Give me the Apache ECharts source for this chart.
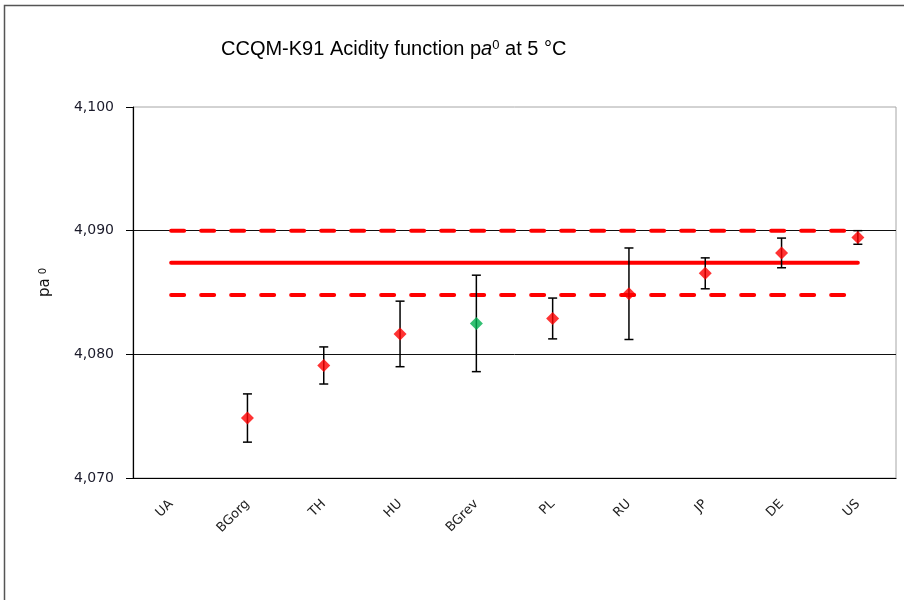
<!DOCTYPE html>
<html><head><meta charset="utf-8">
<script src="https://cdn.jsdelivr.net/npm/echarts@6/dist/echarts.min.js"></script>
<style>html,body{margin:0;padding:0;background:#fff}#c{width:904px;height:600px}</style>
</head><body><div id="c"></div>
<script>
// ---- data ----
const categories = ['UA', 'BGorg', 'TH', 'HU', 'BGrev', 'PL', 'RU', 'JP', 'DE', 'US'];
const values = [null, 4.07485, 4.0791, 4.08165, 4.0825, 4.0829, 4.0849, 4.08655, 4.0882, 4.08945];
const uncertainties = [null, 0.00195, 0.0015, 0.00265, 0.0039, 0.00165, 0.0037, 0.00125, 0.0012, 0.00055];
const markerColors = ['#FF0000', '#FF0000', '#FF0000', '#FF0000', '#00B050', '#FF0000', '#FF0000', '#FF0000', '#FF0000', '#FF0000'];
const kcrvLine = [4.0874, 4.0874, 4.0874, 4.0874, 4.0874, 4.0874, 4.0874, 4.0874, 4.0874, 4.0874];
const upperLine = [4.0900, 4.0900, 4.0900, 4.0900, 4.0900, 4.0900, 4.0900, 4.0900, 4.0900, 4.0900];
const lowerLine = [4.0848, 4.0848, 4.0848, 4.0848, 4.0848, 4.0848, 4.0848, 4.0848, 4.0848, 4.0848];
const yMin = 4.07, yMax = 4.10, yStep = 0.01;

const errData = [];
values.forEach((v, i) => {
  if (v != null) errData.push([i, v - uncertainties[i], v + uncertainties[i]]);
});
const pointData = values.map((v, i) => v == null ? null : { value: v, itemStyle: { color: markerColors[i] } });

const chart = echarts.init(document.getElementById('c'), null, { renderer: 'canvas' });
const axisFont = 'DejaVu Sans';
const titleFont = 'Liberation Sans';
chart.setOption({
  animation: false,
  backgroundColor: '#fff',
  title: {
    text: '{n|CCQM-K91 Acidity function p}{i|a}{s|0}{n| at 5 °C}',
    left: 216, top: 34,
    textStyle: {
      fontWeight: 'normal',
      rich: {
        n: { fontFamily: titleFont, fontSize: 20, fontWeight: 'normal', color: '#000' },
        i: { fontFamily: titleFont, fontSize: 20, fontWeight: 'normal', fontStyle: 'italic', color: '#000' },
        s: { fontFamily: titleFont, fontSize: 13, fontWeight: 'normal', color: '#000', verticalAlign: 'top' }
      }
    }
  },
  graphic: [{
    type: 'rect', silent: true, z: 100,
    shape: { x: 4.5, y: 5.5, width: 1000, height: 1000 },
    style: { fill: 'none', stroke: '#555', lineWidth: 1.5 }
  }],
  grid: { left: 133, top: 107, right: 8, bottom: 122, show: true, borderColor: '#a6a6a6', borderWidth: 1 },
  xAxis: {
    type: 'category', data: categories, boundaryGap: true,
    axisLine: { lineStyle: { color: '#000', width: 1.2 } },
    axisTick: { alignWithLabel: false, length: 5, lineStyle: { color: '#000' } },
    axisLabel: { rotate: 45, margin: 24, fontFamily: axisFont, fontSize: 13, color: '#222' },
    splitLine: { show: false }
  },
  yAxis: {
    type: 'value', min: yMin, max: yMax, interval: yStep,
    name: '{a|pa}{b|0}', nameLocation: 'middle', nameRotate: 90, nameGap: 80,
    nameTextStyle: {
      padding: [0, 0, 0, 20],
      rich: {
        a: { fontFamily: axisFont, fontSize: 15, color: '#111' },
        b: { fontFamily: axisFont, fontSize: 10, color: '#111', verticalAlign: 'top', padding: [0, 0, 0, 4] }
      }
    },
    axisLine: { show: true, lineStyle: { color: '#000', width: 1.2 } },
    axisTick: { show: true, length: 7, lineStyle: { color: '#000' } },
    axisLabel: {
      margin: 19, fontFamily: axisFont, fontSize: 14, color: '#1a1a2a',
      formatter: v => v.toFixed(3).replace('.', ',')
    },
    splitLine: { show: true, showMinLine: false, showMaxLine: false, lineStyle: { color: '#111', width: 1 } }
  },
  series: [
    {
      type: 'line', data: upperLine, symbol: 'none', z: 2,
      lineStyle: { color: '#FF0000', width: 4, type: [13, 17], cap: 'round' }
    },
    {
      type: 'line', data: lowerLine, symbol: 'none', z: 2,
      lineStyle: { color: '#FF0000', width: 4, type: [13, 17], cap: 'round' }
    },
    {
      type: 'line', data: kcrvLine, symbol: 'none', z: 2,
      lineStyle: { color: '#FF0000', width: 4, cap: 'round' }
    },
    {
      type: 'custom', z: 3,
      data: errData,
      renderItem: (params, api) => {
        const x = api.value(0);
        const lo = api.coord([x, api.value(1)]);
        const hi = api.coord([x, api.value(2)]);
        const hw = 4.5;
        const st = { stroke: '#000', lineWidth: 1.5 };
        return {
          type: 'group',
          children: [
            { type: 'line', shape: { x1: lo[0], y1: lo[1], x2: hi[0], y2: hi[1] }, style: st },
            { type: 'line', shape: { x1: lo[0] - hw, y1: lo[1], x2: lo[0] + hw, y2: lo[1] }, style: st },
            { type: 'line', shape: { x1: hi[0] - hw, y1: hi[1], x2: hi[0] + hw, y2: hi[1] }, style: st }
          ]
        };
      }
    },
    {
      type: 'scatter', z: 4, data: pointData,
      symbol: 'diamond', symbolSize: 13
    }
  ]
});
</script>
</body></html>
